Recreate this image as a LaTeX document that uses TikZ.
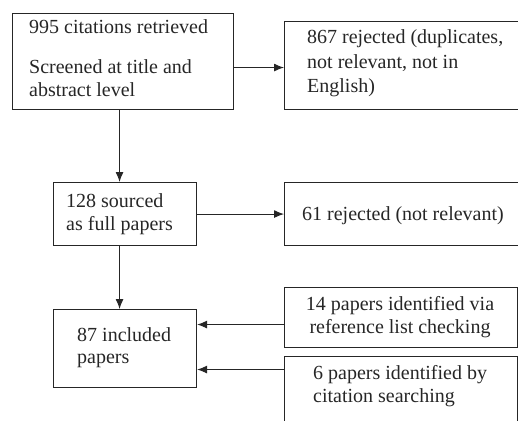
\documentclass[tikz,border=0pt]{standalone}
\usepackage{fontspec}
\setmainfont{Liberation Serif}
\newfontfamily\tnrfont{Liberation Serif}
\usetikzlibrary{arrows.meta}

\begin{document}
\begin{tikzpicture}[x=1pt,y=-1pt,
  box/.style={draw,line width=1.1pt,draw=black!85,inner sep=0,anchor=north west},
  txt/.style={inner sep=0,align=left,anchor=base west,text=black!85,font=\tnrfont\fontsize{20}{23}\selectfont},
  arr/.style={line width=1pt,draw=black!85,-{Latex[length=10pt,width=8pt]}}]

\useasboundingbox (0,0) rectangle (518,420);

% boxes
\node[box,minimum width=221,minimum height=96] (retr) at (12,13) {};
\node[box,minimum width=260,minimum height=88] (rejA) at (284,21) {};
\node[box,minimum width=143,minimum height=63] (srcd) at (53,182) {};
\node[box,minimum width=260,minimum height=63] (rejB) at (284,182) {};
\node[box,minimum width=143,minimum height=78] (incl) at (53,309) {};
\node[box,minimum width=233,minimum height=60] (refs) at (284,287) {};
\node[box,minimum width=233,minimum height=80] (cits) at (284,356) {};

% texts
\node[txt] (retrT) at (29,96) {995 citations retrieved\\[17pt]Screened at title and\\abstract level};
\node[txt,font=\tnrfont\fontsize{20}{24}\selectfont] (rejAT) at (307,92) {867 rejected (duplicates,\\not relevant, not in\\English)};
\node[txt] (srcdT) at (66,230) {128 sourced\\as full papers};
\node[txt] (rejBT) at (302,220) {61 rejected (not relevant)};
\node[txt,font=\tnrfont\fontsize{20}{22}\selectfont] (inclT) at (77,363) {87 included\\papers};
\node[txt,align=center,anchor=base] (refsT) at (400,333) {14 papers identified via\\reference list checking};
\node[txt] (citsT) at (313,402) {6 papers identified by\\citation searching};

% connectors
\draw[arr] ([yshift=-6pt]retr.east) coordinate (t1) -- (t1 -| rejA.west);
\draw[arr] ([xshift=-3.5pt]retr.south) coordinate (t2) -- (t2 |- srcd.north);
\draw[arr] (srcd.east) -- (srcd.east -| rejB.west);
\draw[arr] ([xshift=-5.5pt]srcd.south) coordinate (t3) -- (t3 |- incl.north);
\path ([yshift=24pt]incl.east) coordinate (t4) ([yshift=-21pt]incl.east) coordinate (t5);
\draw[arr] (t4 -| refs.west) -- (t4);
\draw[arr] (t5 -| cits.west) -- (t5);
\end{tikzpicture}
\end{document}
